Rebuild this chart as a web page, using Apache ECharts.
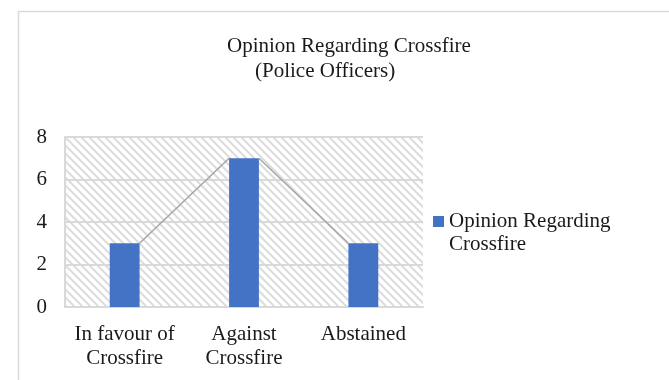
<!DOCTYPE html>
<html>
<head>
<meta charset="utf-8">
<script src="https://cdn.jsdelivr.net/npm/echarts@6/dist/echarts.min.js"></script>
<style>html,body{margin:0;padding:0;background:#fff}#c{width:669px;height:380px}</style>
</head>
<body>
<div id="c"></div>
<script>
const categories = ['In favour of\nCrossfire', 'Against\nCrossfire', 'Abstained'];
const values = [3, 7, 3];
const yTicks = [0, 2, 4, 6, 8];
const seriesName = 'Opinion Regarding Crossfire';

const FONT = '"Liberation Serif", "Times New Roman", serif';

// hatch pattern
const pc = document.createElement('canvas');
pc.width = 8; pc.height = 8;
const pctx = pc.getContext('2d');
pctx.fillStyle = '#ffffff';
pctx.fillRect(0, 0, 8, 8);
pctx.strokeStyle = '#dcdcdc';
pctx.lineWidth = 2;
[-8, 0, 8].forEach(k => {
  pctx.beginPath();
  pctx.moveTo(k - 1, -1);
  pctx.lineTo(k + 9, 9);
  pctx.stroke();
});

const barRatio = 0.25;
const linkData = [];
for (let i = 0; i < values.length - 1; i++) linkData.push([i, values[i], values[i + 1]]);

const chart = echarts.init(document.getElementById('c'));
chart.setOption({
  animation: false,
  backgroundColor: '#ffffff',
  graphic: [{
    type: 'rect', shape: {x: 18.5, y: 11.5, width: 720, height: 420},
    style: {fill: 'none', stroke: '#d9d9d9', lineWidth: 1.5}, silent: true
  }],
  title: [
    {text: 'Opinion Regarding Crossfire', left: 222, top: 31,
     textStyle: {fontFamily: FONT, fontSize: 21, fontWeight: 'normal', color: '#1a1a1a'}},
    {text: '(Police Officers)', left: 250, top: 56,
     textStyle: {fontFamily: FONT, fontSize: 21, fontWeight: 'normal', color: '#1a1a1a'}}
  ],
  legend: {
    left: 433, top: 210, orient: 'vertical', padding: 0,
    itemWidth: 11, itemHeight: 34,
    icon: 'path://M0,0 L11,0 L11,11 L0,11 Z M0,34 L11,34',
    itemStyle: {borderWidth: 0},
    data: [seriesName],
    formatter: () => 'Opinion Regarding\nCrossfire',
    textStyle: {fontFamily: FONT, fontSize: 21, color: '#1a1a1a', lineHeight: 23}
  },
  grid: {
    left: 65, right: 246, top: 137, bottom: 73,
    show: true, backgroundColor: {image: pc, repeat: 'repeat'}, borderWidth: 0
  },
  xAxis: {
    type: 'category', data: categories,
    axisLine: {show: true, lineStyle: {color: '#d9d9d9', width: 2}},
    axisTick: {show: false},
    axisLabel: {fontFamily: FONT, fontSize: 21, color: '#1a1a1a', lineHeight: 24, margin: 15, interval: 0}
  },
  yAxis: {
    type: 'value', min: 0, max: 8, interval: 2,
    axisLine: {show: true, lineStyle: {color: '#d9d9d9', width: 2}},
    axisTick: {show: false},
    splitLine: {lineStyle: {color: '#d9d9d9', width: 2}},
    axisLabel: {fontFamily: FONT, fontSize: 21, color: '#1a1a1a', margin: 18,
      formatter: v => yTicks.includes(v) ? String(v) : ''}
  },
  series: [
    {
      name: seriesName, type: 'bar', data: values, barWidth: (barRatio * 100) + '%',
      itemStyle: {color: '#4472C4'}, z: 3
    },
    {
      type: 'custom', data: linkData, silent: true, z: 4,
      renderItem: (params, api) => {
        const i = api.value(0);
        const p1 = api.coord([i, api.value(1)]);
        const p2 = api.coord([i + 1, api.value(2)]);
        const hw = api.size([1, 0])[0] * barRatio / 2;
        return {
          type: 'line',
          shape: {x1: p1[0] + hw, y1: p1[1], x2: p2[0] - hw, y2: p2[1]},
          style: {stroke: '#a5a5a5', lineWidth: 1.5}
        };
      },
      encode: {x: 0, y: 1}
    }
  ]
});
</script>
</body>
</html>
